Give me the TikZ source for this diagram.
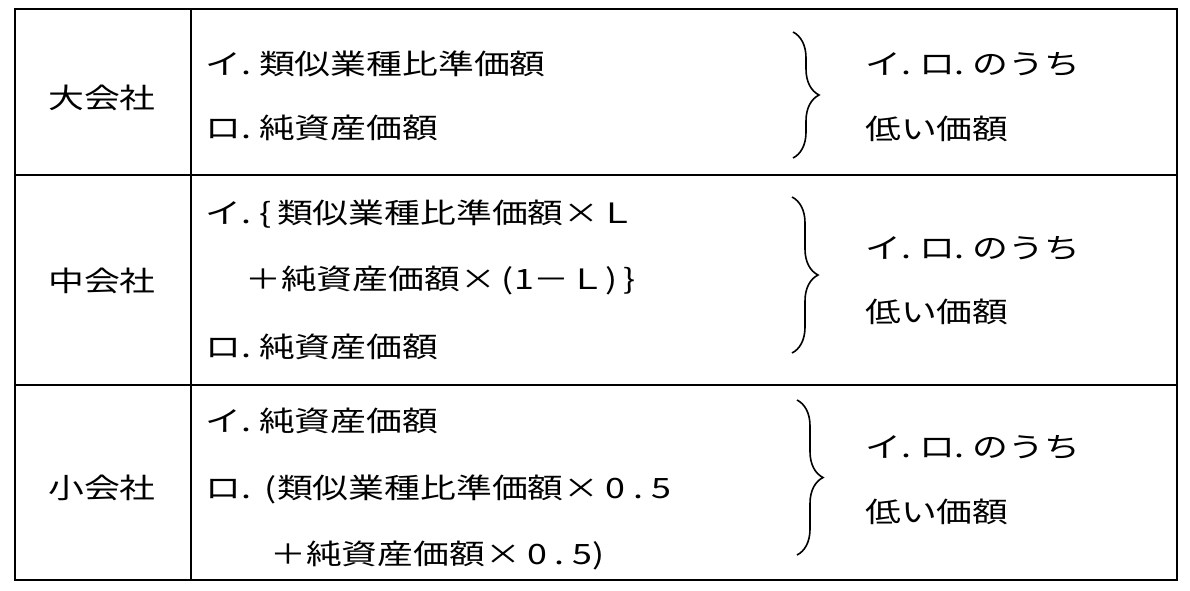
\documentclass[tikz,border=0pt]{standalone}
\usepackage{fontspec}
\usetikzlibrary{decorations.pathreplacing}
\newfontfamily\jp[FakeStretch=1.28]{Noto Sans CJK JP}
\newcommand\pd{\makebox[18pt][l]{.}}
\newcommand\lp{\makebox[18pt][r]{(}}
\newcommand\rp{\makebox[18pt][l]{)}}
\newcommand\lbr{\makebox[18pt][l]{\{}}
\newcommand\rbr{\makebox[18pt][l]{\}}}
\newcommand\half{\hspace{6pt}0\makebox[26pt][c]{.}5}
\begin{document}
\begin{tikzpicture}[x=1pt,y=-1pt,
  txt/.style={anchor=base west, inner sep=0pt, font={\jp\fontsize{28}{30}\selectfont}},
  head/.style={anchor=base, inner sep=0pt, font={\jp\fontsize{28}{30}\selectfont}},
  grid/.style={line width=2.6pt},
  brc/.style={decorate, decoration={brace, amplitude=26pt}, line width=1.6pt}]
\useasboundingbox (0,0) rectangle (1190,590);
% table
\draw[grid] (15,9) rectangle (1177,580);
\draw[grid] (191,9) -- (191,580);
\draw[grid] (15,175) -- (1177,175);
\draw[grid] (15,385) -- (1177,385);
% row headers
\node[head] (h1) at (102,108) {大会社};
\node[head] (h2) at (102,291) {中会社};
\node[head] (h3) at (102,498) {小会社};
% row 1
\node[txt] (a1) at (205,74) {イ\pd 類似業種比準価額};
\node[txt] (a2) at (205,138) {ロ\pd 純資産価額};
\coordinate (b1t) at (793,32);
\coordinate (b1b) at (793,158);
\draw[brc] (b1t) -- (b1b);
\node[txt] (r1a) at (865,74) {イ\pd ロ\pd のうち};
\node[txt] (r1b) at (865,139) {低い価額};
% row 2
\node[txt] (c1) at (205,223) {イ\pd\lbr 類似業種比準価額×Ｌ};
\node[txt] (c2) at (245,289) {＋純資産価額×\lp 1－Ｌ\rp\rbr};
\node[txt] (c3) at (205,357) {ロ\pd 純資産価額};
\coordinate (b2t) at (792,197);
\coordinate (b2b) at (792,353);
\draw[brc] (b2t) -- (b2b);
\node[txt] (r2a) at (865,258) {イ\pd ロ\pd のうち};
\node[txt] (r2b) at (865,322) {低い価額};
% row 3
\node[txt] (d1) at (205,431) {イ\pd 純資産価額};
\node[txt] (d2) at (205,498) {ロ\pd\lp 類似業種比準価額×\half};
\node[txt] (d3) at (270,564) {＋純資産価額×\half\rp};
\coordinate (b3t) at (797,400);
\coordinate (b3b) at (797,555);
\draw[brc] (b3t) -- (b3b);
\node[txt] (r3a) at (865,457) {イ\pd ロ\pd のうち};
\node[txt] (r3b) at (865,522) {低い価額};
\end{tikzpicture}
\end{document}
